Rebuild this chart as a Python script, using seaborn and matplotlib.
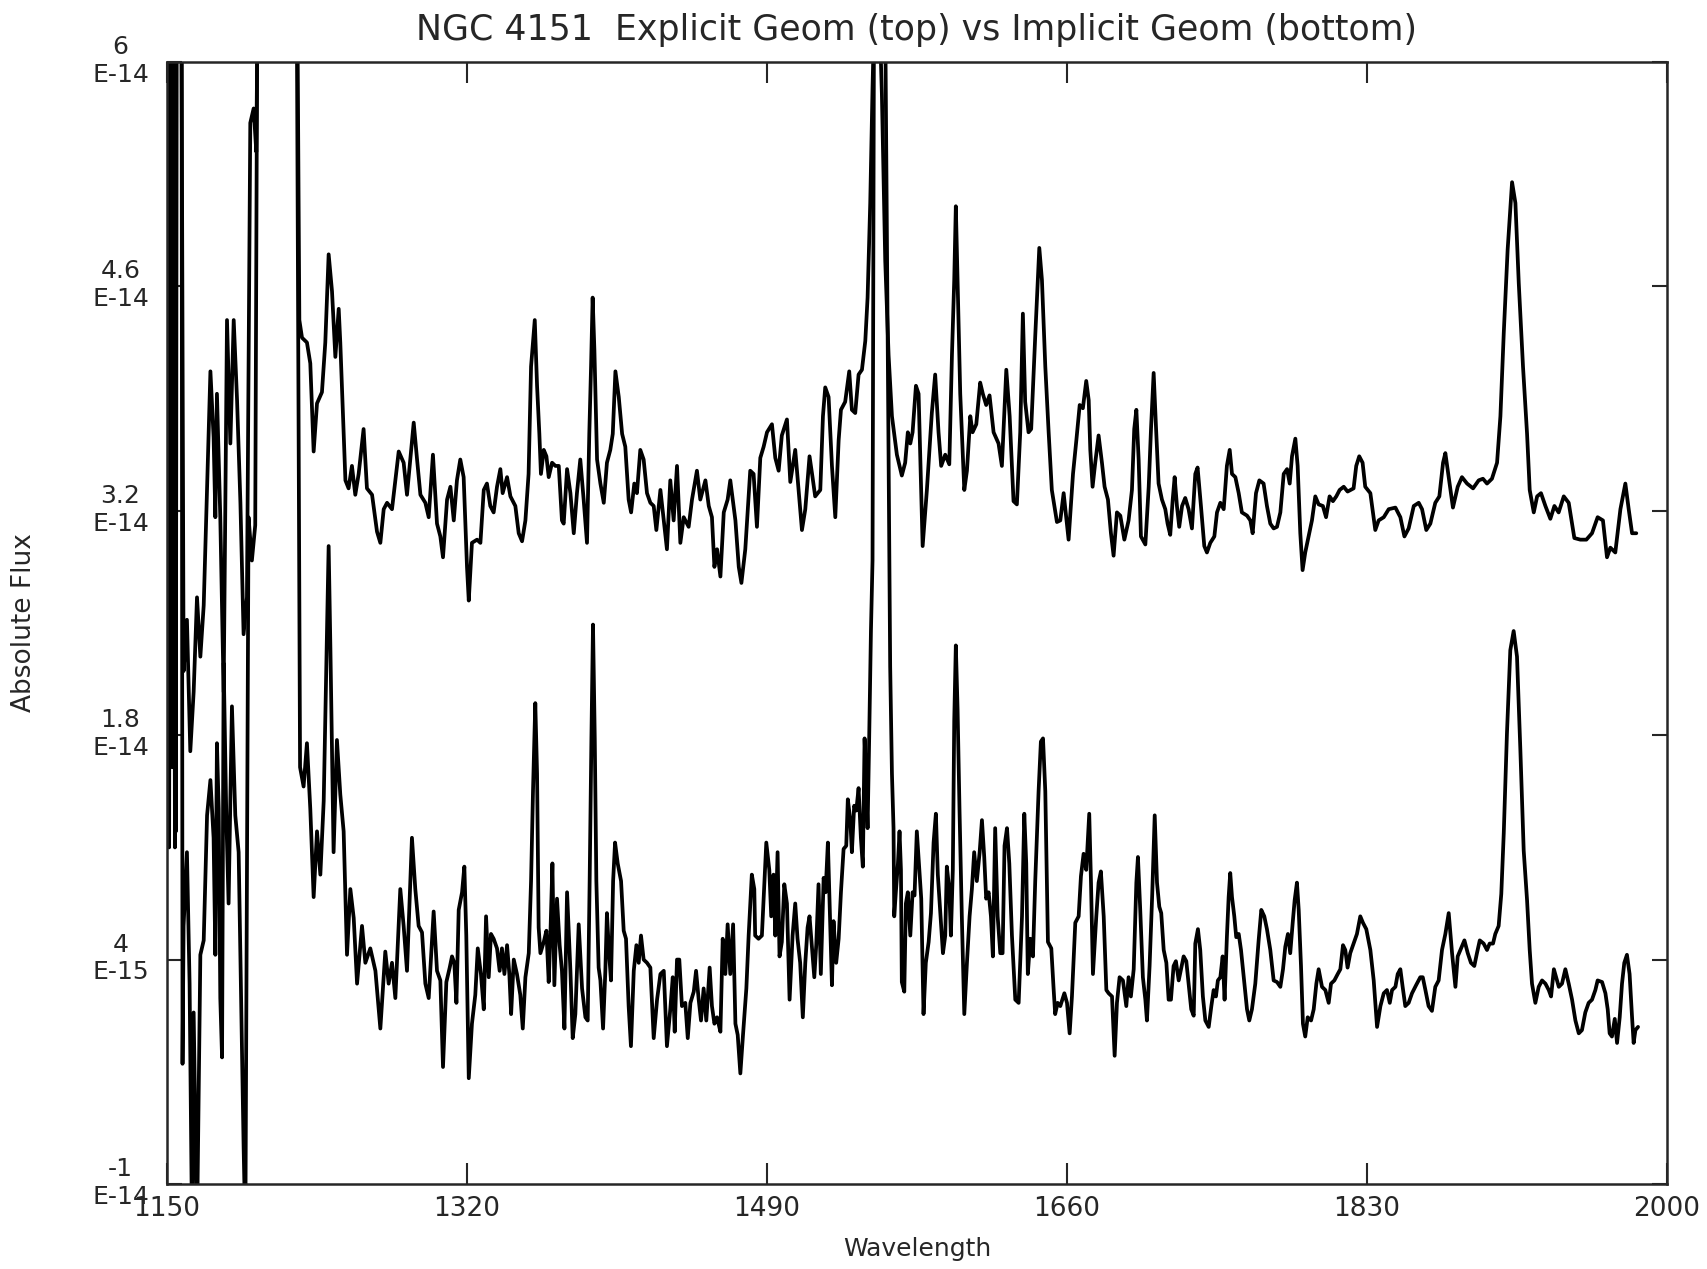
import matplotlib
matplotlib.use("Agg")
import matplotlib.pyplot as plt
import matplotlib.transforms as mtransforms
import pandas as pd
import seaborn as sns

# flux values are in units of 1E-14; 7.0 marks points that run off the top/bottom of the frame
explicit_points = [
    (1150.0, 7.0), (1150.8, 1.3), (1151.6, 7.0), (1152.6, 2.5), (1153.5, 7.0), (1154.5, 1.1),
    (1155.3, 7.0), (1158.0, 7.0), (1159.4, 2.20), (1161.3, 2.52), (1163.2, 1.70), (1165.1, 2.07),
    (1167.0, 2.66), (1168.9, 2.29), (1170.8, 2.61), (1172.7, 3.34), (1174.6, 4.07), (1176.4, 3.66),
    (1177.4, 3.16), (1178.3, 3.93), (1180.2, 3.16), (1182.1, 2.07), (1184.0, 4.39), (1185.9, 3.62),
    (1187.8, 4.39), (1189.7, 3.89), (1191.6, 3.25), (1193.4, 2.43), (1195.3, 2.66), (1197.2, 5.62),
    (1199.1, 5.71), (1200.6, 5.44), (1201.9, 7.0), (1223.5, 7.0),
    (1225.0, 4.39), (1226.5, 4.28), (1229.3, 4.25), (1231.2, 4.12), (1233.1, 3.57), (1235.0, 3.87),
    (1237.8, 3.94), (1239.7, 4.25), (1241.6, 4.80), (1243.5, 4.57), (1245.4, 4.16), (1247.3, 4.46),
    (1248.2, 4.25), (1251.1, 3.39), (1252.9, 3.34), (1254.8, 3.48), (1256.7, 3.30), (1258.6, 3.43),
    (1261.4, 3.71), (1263.3, 3.34), (1266.2, 3.30), (1269.0, 3.07), (1270.9, 3.00), (1272.8, 3.21),
    (1274.7, 3.25), (1277.5, 3.21), (1281.3, 3.57), (1284.1, 3.50), (1286.0, 3.30), (1289.8, 3.75),
    (1291.7, 3.52), (1293.6, 3.30), (1296.4, 3.25), (1298.3, 3.16), (1300.7, 3.55), (1303.0, 3.12),
    (1304.9, 3.04), (1306.4, 2.91), (1308.7, 3.27), (1310.6, 3.35), (1312.5, 3.14), (1314.3, 3.39),
    (1316.2, 3.52), (1318.1, 3.41), (1320.0, 2.85), (1321.0, 2.64), (1322.8, 3.00), (1325.7, 3.02),
    (1327.6, 3.00), (1329.5, 3.33), (1331.3, 3.37), (1333.2, 3.23), (1335.1, 3.19), (1337.0, 3.35),
    (1338.9, 3.46), (1340.2, 3.31), (1342.7, 3.41), (1344.6, 3.29), (1347.4, 3.23), (1349.3, 3.06),
    (1351.2, 3.01), (1353.1, 3.14), (1354.9, 3.43), (1356.3, 4.10), (1358.4, 4.39), (1359.7, 3.98),
    (1361.0, 3.68), (1361.9, 3.43), (1363.5, 3.58), (1365.0, 3.54), (1366.3, 3.41), (1368.2, 3.50),
    (1370.1, 3.48), (1372.0, 3.48), (1373.8, 3.14), (1374.8, 3.12), (1376.7, 3.46), (1378.6, 3.31),
    (1380.5, 3.06), (1382.3, 3.31), (1384.2, 3.52), (1386.1, 3.27), (1388.0, 3.00), (1389.3, 3.68),
    (1390.3, 4.10), (1391.2, 4.53), (1392.2, 4.20), (1393.7, 3.52), (1395.6, 3.37), (1397.5, 3.25),
    (1399.3, 3.50), (1401.2, 3.58), (1402.6, 3.68), (1404.1, 4.07), (1406.0, 3.91), (1407.9, 3.68),
    (1409.7, 3.60), (1411.6, 3.27), (1413.0, 3.19), (1414.8, 3.37), (1416.3, 3.31), (1418.2, 3.58),
    (1420.1, 3.52), (1422.0, 3.31), (1423.9, 3.25), (1425.8, 3.23), (1427.3, 3.08), (1429.6, 3.33),
    (1431.5, 3.14), (1433.3, 2.96), (1435.2, 3.39), (1437.1, 3.14), (1439.0, 3.48), (1440.9, 3.00),
    (1442.8, 3.16), (1445.6, 3.10), (1447.5, 3.27), (1450.3, 3.45), (1452.2, 3.27), (1455.1, 3.39),
    (1457.0, 3.23), (1458.8, 3.16), (1460.2, 2.85), (1461.7, 2.96), (1463.6, 2.79), (1465.5, 3.19),
    (1467.7, 3.27), (1469.2, 3.39), (1470.6, 3.27), (1472.1, 3.14), (1474.0, 2.85), (1475.5, 2.75),
    (1477.7, 2.96), (1480.5, 3.45), (1482.4, 3.43), (1484.3, 3.10), (1486.2, 3.53), (1488.1, 3.60),
    (1490.0, 3.69), (1492.8, 3.74), (1494.7, 3.53), (1496.6, 3.45), (1498.4, 3.67), (1501.3, 3.77),
    (1503.2, 3.38), (1506.0, 3.58), (1507.9, 3.33), (1509.8, 3.08), (1511.7, 3.21), (1514.1, 3.54),
    (1515.8, 3.41), (1517.3, 3.29), (1520.2, 3.33), (1521.7, 3.79), (1523.0, 3.97), (1524.9, 3.91),
    (1526.8, 3.48), (1528.7, 3.16), (1530.6, 3.64), (1531.9, 3.83), (1534.3, 3.88), (1536.6, 4.07),
    (1538.1, 3.83), (1540.0, 3.81), (1541.9, 4.05), (1543.8, 4.08), (1545.7, 4.26), (1547.0, 4.53),
    (1548.5, 5.12), (1549.8, 5.84), (1550.8, 6.3), (1553.2, 6.5), (1555.1, 5.8), (1557.0, 4.76),
    (1558.9, 4.17), (1560.8, 3.79), (1563.6, 3.55), (1566.4, 3.42), (1568.3, 3.50), (1569.8, 3.69),
    (1571.2, 3.62), (1572.5, 3.69), (1574.4, 3.98), (1575.9, 3.93), (1578.2, 2.98), (1580.6, 3.33),
    (1583.4, 3.81), (1585.3, 4.05), (1587.2, 3.69), (1588.7, 3.48), (1591.0, 3.55), (1593.3, 3.49),
    (1594.8, 4.17), (1596.1, 4.64), (1597.0, 5.10), (1598.0, 4.64), (1599.5, 3.93), (1601.8, 3.33),
    (1603.3, 3.45), (1605.2, 3.79), (1606.5, 3.69), (1608.6, 3.74), (1610.8, 4.00), (1612.3, 3.93),
    (1614.2, 3.86), (1616.1, 3.92), (1618.4, 3.69), (1621.2, 3.62), (1623.1, 3.48), (1625.6, 4.08),
    (1627.5, 3.79), (1629.7, 3.26), (1631.6, 3.24), (1633.5, 3.69), (1635.0, 4.43), (1636.3, 3.88),
    (1638.2, 3.69), (1639.7, 3.71), (1642.0, 4.29), (1644.3, 4.84), (1645.8, 4.64), (1647.7, 4.10),
    (1649.6, 3.69), (1651.4, 3.33), (1654.3, 3.13), (1656.2, 3.14), (1658.1, 3.31), (1660.9, 3.02),
    (1663.4, 3.43), (1665.3, 3.64), (1667.2, 3.86), (1669.0, 3.84), (1670.9, 4.01), (1672.3, 3.89),
    (1673.2, 3.58), (1674.5, 3.35), (1676.0, 3.50), (1677.9, 3.67), (1679.8, 3.50), (1681.3, 3.35),
    (1683.2, 3.27), (1684.9, 3.06), (1686.4, 2.92), (1688.3, 3.19), (1690.2, 3.17), (1692.5, 3.02),
    (1694.9, 3.14), (1696.8, 3.33), (1698.1, 3.71), (1699.3, 3.83), (1700.6, 3.52), (1701.9, 3.04),
    (1704.4, 2.99), (1706.3, 3.35), (1707.6, 3.71), (1709.1, 4.06), (1710.4, 3.73), (1711.9, 3.37),
    (1713.8, 3.27), (1715.7, 3.21), (1717.0, 3.12), (1718.5, 3.05), (1719.9, 3.27), (1721.0, 3.41),
    (1722.3, 3.23), (1723.6, 3.10), (1725.2, 3.23), (1727.0, 3.28), (1728.9, 3.21), (1730.8, 3.09),
    (1732.7, 3.43), (1734.0, 3.47), (1735.9, 3.23), (1737.8, 2.98), (1739.3, 2.94), (1741.2, 3.00),
    (1743.5, 3.04), (1745.0, 3.19), (1746.9, 3.25), (1748.8, 3.21), (1750.6, 3.48), (1752.2, 3.58),
    (1753.5, 3.43), (1755.4, 3.41), (1757.3, 3.31), (1759.1, 3.19), (1762.0, 3.17), (1763.9, 3.14),
    (1765.2, 3.06), (1767.1, 3.31), (1769.0, 3.39), (1771.4, 3.37), (1773.3, 3.23), (1775.2, 3.12),
    (1777.1, 3.09), (1779.0, 3.10), (1780.9, 3.19), (1782.8, 3.43), (1784.7, 3.46), (1786.2, 3.37),
    (1787.5, 3.54), (1789.4, 3.65), (1790.7, 3.48), (1792.2, 3.06), (1793.5, 2.83), (1795.0, 2.94),
    (1796.9, 3.04), (1798.8, 3.14), (1800.7, 3.29), (1802.6, 3.24), (1805.0, 3.23), (1806.8, 3.16),
    (1808.8, 3.29), (1810.7, 3.26), (1812.6, 3.29), (1814.5, 3.33), (1816.8, 3.35), (1819.0, 3.32),
    (1822.4, 3.34), (1823.9, 3.48), (1825.6, 3.54), (1827.5, 3.50), (1829.0, 3.35), (1831.9, 3.31),
    (1834.7, 3.08), (1836.6, 3.14), (1839.5, 3.16), (1842.3, 3.21), (1846.1, 3.22), (1848.9, 3.16),
    (1851.2, 3.04), (1853.6, 3.09), (1856.5, 3.23), (1859.3, 3.25), (1861.2, 3.21), (1863.6, 3.08),
    (1865.9, 3.12), (1868.7, 3.25), (1871.0, 3.29), (1873.1, 3.50), (1874.4, 3.56), (1876.3, 3.41),
    (1878.7, 3.22), (1881.4, 3.35), (1883.8, 3.41), (1886.7, 3.37), (1890.1, 3.34), (1893.3, 3.39),
    (1895.7, 3.40), (1898.0, 3.37), (1900.8, 3.40), (1903.7, 3.50), (1905.6, 3.79), (1907.5, 4.31),
    (1909.7, 4.83), (1912.2, 5.25), (1914.1, 5.12), (1916.0, 4.62), (1918.4, 4.10), (1920.7, 3.68),
    (1922.2, 3.33), (1924.5, 3.19), (1926.4, 3.29), (1928.6, 3.31), (1931.1, 3.23), (1933.9, 3.15),
    (1936.2, 3.23), (1938.6, 3.19), (1941.5, 3.29), (1944.3, 3.25), (1947.5, 3.03), (1950.9, 3.02),
    (1954.3, 3.02), (1957.5, 3.06), (1960.7, 3.16), (1963.7, 3.14), (1966.0, 2.91), (1967.9, 2.97),
    (1970.7, 2.94), (1973.6, 3.21), (1976.4, 3.37), (1978.3, 3.21), (1980.2, 3.06), (1982.6, 3.06),
]

implicit_points = [
    (1150.2, 7.0), (1151.2, 1.1), (1152.0, 7.0), (1153.0, 1.6), (1154.0, 7.0), (1155.0, 1.2),
    (1155.6, 7.0), (1158.2, 7.0), (1158.8, -0.25), (1159.4, 0.61), (1161.3, 1.07), (1162.8, 0.25),
    (1164.2, -1.3), (1165.1, 0.07), (1167.0, -1.3), (1168.9, 0.43), (1170.8, 0.52), (1172.7, 1.30),
    (1174.6, 1.52), (1176.4, 1.16), (1177.4, 0.43), (1178.3, 1.75), (1179.3, 1.34), (1180.2, 0.16),
    (1181.2, -0.21), (1182.1, 2.25), (1183.6, 1.30), (1184.9, 0.75), (1186.8, 1.98), (1188.7, 1.30),
    (1190.6, 1.07), (1193.4, -0.76), (1194.4, -1.3), (1196.2, 3.16), (1198.1, 2.89), (1200.0, 3.11),
    (1201.4, 7.0), (1223.3, 7.0), (1225.4, 1.6), (1227.4, 1.48), (1229.3, 1.75), (1231.2, 1.34),
    (1233.1, 0.79), (1235.0, 1.20), (1236.9, 0.93), (1238.8, 1.39), (1241.6, 2.98), (1242.6, 2.34),
    (1244.4, 1.07), (1246.3, 1.77), (1248.2, 1.43), (1250.1, 1.20), (1252.0, 0.43), (1253.9, 0.84),
    (1255.8, 0.66), (1257.7, 0.25), (1260.5, 0.61), (1262.4, 0.38), (1265.2, 0.47), (1268.1, 0.33),
    (1270.9, -0.03), (1273.7, 0.45), (1275.6, 0.25), (1277.5, 0.38), (1279.4, 0.16), (1282.2, 0.84),
    (1284.1, 0.61), (1286.0, 0.33), (1288.8, 1.16), (1290.7, 0.84), (1292.6, 0.61), (1294.5, 0.57),
    (1296.4, 0.25), (1298.3, 0.16), (1301.1, 0.70), (1303.0, 0.33), (1304.9, 0.27), (1306.4, -0.27),
    (1308.3, 0.26), (1310.2, 0.35), (1311.5, 0.42), (1312.8, 0.38), (1314.0, 0.13), (1315.3, 0.71),
    (1317.2, 0.82), (1318.5, 0.98), (1319.6, 0.55), (1321.0, -0.34), (1322.8, 0.00), (1324.7, 0.18),
    (1326.1, 0.47), (1327.9, 0.31), (1329.5, 0.09), (1330.8, 0.67), (1332.3, 0.29), (1333.6, 0.56),
    (1335.1, 0.53), (1337.0, 0.47), (1338.5, 0.33), (1339.8, 0.47), (1341.2, 0.31), (1342.7, 0.49),
    (1344.0, 0.31), (1345.0, 0.06), (1346.5, 0.40), (1348.3, 0.31), (1350.2, 0.18), (1351.6, -0.03),
    (1353.1, 0.29), (1355.0, 0.44), (1356.3, 0.89), (1357.4, 1.45), (1358.7, 2.00), (1359.7, 1.56),
    (1360.6, 0.60), (1361.6, 0.44), (1363.5, 0.51), (1365.0, 0.58), (1366.3, 0.26), (1367.2, 0.53),
    (1368.4, 1.00), (1369.5, 0.24), (1371.0, 0.78), (1372.5, 0.49), (1373.8, 0.33), (1375.2, -0.03),
    (1376.7, 0.82), (1378.6, 0.33), (1379.9, -0.09), (1381.4, 0.06), (1383.3, 0.62), (1385.2, 0.22),
    (1387.1, 0.04), (1388.4, 0.02), (1389.5, 0.89), (1390.5, 1.78), (1391.4, 2.49), (1392.4, 1.78),
    (1393.3, 0.89), (1394.6, 0.35), (1395.6, 0.27), (1397.1, -0.03), (1398.4, 0.33), (1399.3, 0.69),
    (1400.5, 0.44), (1401.6, 0.27), (1402.8, 0.89), (1403.9, 1.13), (1405.4, 1.00), (1407.3, 0.89),
    (1408.8, 0.58), (1410.1, 0.53), (1411.6, 0.11), (1412.9, -0.14), (1414.5, 0.33), (1416.0, 0.49),
    (1417.3, 0.38), (1418.6, 0.55), (1420.1, 0.40), (1422.0, 0.38), (1423.9, 0.35), (1425.8, -0.09),
    (1427.7, 0.15), (1429.6, 0.31), (1431.5, 0.33), (1433.3, -0.14), (1435.2, 0.09), (1436.6, 0.29),
    (1437.7, -0.05), (1439.0, 0.40), (1440.3, 0.40), (1441.8, 0.11), (1443.7, 0.13), (1445.1, -0.09),
    (1446.6, 0.13), (1448.5, 0.20), (1449.8, 0.33), (1451.3, 0.15), (1452.6, 0.02), (1454.1, 0.22),
    (1455.6, 0.02), (1457.5, 0.35), (1458.8, 0.11), (1460.2, 0.00), (1461.7, 0.04), (1463.6, -0.05),
    (1464.9, 0.53), (1466.4, 0.31), (1467.7, 0.62), (1469.2, 0.31), (1470.8, 0.62), (1472.1, 0.00),
    (1473.4, -0.07), (1474.9, -0.31), (1476.4, -0.07), (1478.3, 0.22), (1479.6, 0.55), (1481.4, 0.93),
    (1482.8, 0.84), (1483.3, 0.55), (1485.2, 0.53), (1487.1, 0.55), (1489.6, 1.13), (1491.3, 0.96),
    (1492.4, 0.67), (1493.7, 0.93), (1494.7, 0.55), (1496.0, 1.07), (1497.1, 0.42), (1498.4, 0.51),
    (1499.8, 0.87), (1501.3, 0.75), (1502.8, 0.15), (1504.5, 0.55), (1506.0, 0.75), (1507.3, 0.53),
    (1508.8, 0.38), (1510.3, 0.04), (1511.7, 0.38), (1513.0, 0.60), (1514.1, 0.67), (1515.4, 0.49),
    (1516.8, 0.29), (1517.9, 0.49), (1519.2, 0.87), (1520.5, 0.31), (1522.1, 0.91), (1523.2, 0.82),
    (1524.5, 1.13), (1525.8, 0.64), (1526.8, 0.24), (1527.7, 0.64), (1529.2, 0.38), (1530.6, 0.53),
    (1531.9, 0.82), (1533.4, 1.09), (1534.9, 1.11), (1535.8, 1.40), (1537.2, 1.27), (1538.1, 1.07),
    (1539.4, 1.36), (1540.6, 1.33), (1541.9, 1.47), (1543.2, 1.16), (1544.3, 0.98), (1545.3, 1.78),
    (1546.2, 1.51), (1547.0, 1.22), (1547.9, 1.78), (1548.9, 2.45), (1549.8, 2.89), (1550.8, 7.0),
    (1556.5, 7.0), (1559.8, 2.23), (1560.8, 1.56), (1561.7, 1.22), (1562.1, 0.67), (1563.0, 0.82),
    (1564.2, 1.00), (1565.1, 1.20), (1565.9, 0.96), (1566.4, 0.26), (1567.8, 0.20), (1568.7, 0.75),
    (1569.8, 0.82), (1571.2, 0.55), (1572.5, 0.82), (1573.6, 0.80), (1574.9, 1.20), (1576.5, 0.93),
    (1577.4, 0.78), (1578.7, 0.06), (1580.0, 0.38), (1581.6, 0.51), (1582.9, 0.69), (1584.4, 1.13),
    (1585.7, 1.31), (1586.8, 0.93), (1588.2, 0.69), (1589.7, 0.44), (1591.0, 0.55), (1591.9, 0.98),
    (1593.3, 0.84), (1594.2, 0.55), (1595.3, 0.96), (1596.1, 1.89), (1597.0, 2.36), (1598.0, 1.96),
    (1599.1, 1.33), (1600.4, 0.67), (1601.8, 0.06), (1603.3, 0.38), (1604.8, 0.67), (1606.1, 0.84),
    (1607.4, 1.07), (1608.9, 0.89), (1610.5, 1.07), (1611.8, 1.27), (1613.1, 1.04), (1614.2, 0.78),
    (1615.6, 0.82), (1616.9, 0.67), (1618.0, 0.42), (1619.3, 1.22), (1620.7, 0.67), (1622.2, 0.44),
    (1623.5, 0.44), (1624.6, 1.11), (1626.0, 1.22), (1627.3, 1.00), (1628.8, 0.55), (1630.7, 0.15),
    (1632.6, 0.13), (1634.5, 0.67), (1635.8, 1.31), (1636.9, 1.00), (1637.8, 0.31), (1639.2, 0.53),
    (1640.7, 0.42), (1642.0, 0.89), (1643.9, 1.45), (1645.2, 1.76), (1646.4, 1.78), (1647.7, 1.45),
    (1649.2, 0.51), (1651.1, 0.47), (1652.4, 0.22), (1653.3, 0.06), (1654.7, 0.13), (1656.2, 0.11),
    (1658.5, 0.19), (1660.0, 0.13), (1661.5, -0.06), (1662.8, 0.17), (1664.7, 0.63), (1666.6, 0.67),
    (1667.9, 0.92), (1669.4, 1.06), (1670.9, 0.96), (1672.6, 1.31), (1673.6, 0.88), (1674.7, 0.31),
    (1676.6, 0.67), (1677.9, 0.88), (1679.2, 0.95), (1680.8, 0.67), (1682.3, 0.21), (1683.6, 0.19),
    (1685.5, 0.17), (1687.0, -0.20), (1688.3, 0.13), (1689.8, 0.29), (1691.7, 0.27), (1693.6, 0.11),
    (1694.9, 0.29), (1696.2, 0.17), (1697.8, 0.34), (1699.3, 0.88), (1700.2, 1.04), (1701.5, 0.71),
    (1703.0, 0.29), (1704.4, 0.15), (1705.3, 0.02), (1706.8, 0.36), (1708.3, 0.81), (1709.7, 1.30),
    (1711.0, 0.88), (1712.3, 0.73), (1713.4, 0.69), (1714.8, 0.46), (1716.3, 0.38), (1717.6, 0.15),
    (1718.9, 0.15), (1720.4, 0.36), (1721.7, 0.39), (1723.3, 0.27), (1724.6, 0.34), (1726.1, 0.42),
    (1727.6, 0.39), (1728.9, 0.25), (1730.4, 0.09), (1731.8, 0.05), (1732.7, 0.50), (1734.2, 0.59),
    (1735.5, 0.46), (1737.0, 0.17), (1738.4, 0.02), (1740.3, -0.02), (1741.8, 0.11), (1743.1, 0.21),
    (1744.4, 0.17), (1745.5, 0.27), (1746.9, 0.29), (1748.2, 0.42), (1749.3, 0.15), (1750.6, 0.54),
    (1751.6, 0.79), (1752.5, 0.94), (1753.5, 0.79), (1754.8, 0.67), (1755.9, 0.54), (1757.3, 0.56),
    (1758.6, 0.46), (1760.5, 0.25), (1762.0, 0.09), (1763.3, 0.02), (1764.8, 0.09), (1766.7, 0.25),
    (1768.6, 0.52), (1770.1, 0.71), (1771.8, 0.67), (1773.3, 0.59), (1775.2, 0.46), (1777.1, 0.27),
    (1779.0, 0.26), (1780.9, 0.23), (1782.4, 0.34), (1783.7, 0.48), (1785.2, 0.56), (1786.5, 0.44),
    (1787.9, 0.63), (1789.0, 0.77), (1790.3, 0.88), (1791.3, 0.71), (1792.6, 0.36), (1793.7, 0.00),
    (1795.0, -0.08), (1796.4, 0.04), (1798.3, 0.02), (1799.8, 0.09), (1801.3, 0.25), (1802.6, 0.34),
    (1804.5, 0.23), (1806.4, 0.21), (1808.3, 0.13), (1809.6, 0.25), (1811.5, 0.27), (1813.4, 0.31),
    (1814.9, 0.34), (1816.4, 0.49), (1817.7, 0.46), (1819.0, 0.35), (1820.5, 0.44), (1822.4, 0.50),
    (1824.3, 0.56), (1826.2, 0.67), (1827.7, 0.63), (1829.6, 0.59), (1831.9, 0.46), (1833.8, 0.27),
    (1835.7, -0.02), (1837.6, 0.11), (1839.5, 0.19), (1841.3, 0.21), (1842.9, 0.13), (1844.2, 0.21),
    (1846.1, 0.23), (1847.4, 0.31), (1848.9, 0.34), (1850.2, 0.23), (1851.7, 0.11), (1853.6, 0.13),
    (1855.5, 0.19), (1857.8, 0.24), (1860.2, 0.29), (1861.6, 0.29), (1863.1, 0.21), (1864.9, 0.11),
    (1866.8, 0.08), (1868.7, 0.23), (1870.6, 0.27), (1872.5, 0.46), (1874.4, 0.56), (1876.3, 0.69),
    (1878.2, 0.44), (1880.1, 0.23), (1881.4, 0.42), (1882.9, 0.46), (1885.2, 0.52), (1887.1, 0.44),
    (1888.9, 0.38), (1890.8, 0.36), (1892.3, 0.44), (1893.9, 0.52), (1896.1, 0.50), (1898.0, 0.46),
    (1899.5, 0.50), (1901.4, 0.50), (1902.7, 0.56), (1904.6, 0.61), (1906.1, 0.81), (1907.5, 1.19),
    (1909.3, 1.81), (1911.2, 2.33), (1913.1, 2.45), (1915.0, 2.29), (1916.9, 1.71), (1918.8, 1.08),
    (1920.7, 0.77), (1922.2, 0.46), (1923.5, 0.25), (1925.4, 0.13), (1927.3, 0.23), (1929.2, 0.27),
    (1931.1, 0.25), (1933.0, 0.21), (1934.3, 0.17), (1935.9, 0.34), (1937.2, 0.29), (1938.7, 0.23),
    (1940.5, 0.25), (1942.4, 0.34), (1944.3, 0.25), (1946.2, 0.15), (1948.1, 0.02), (1950.0, -0.06),
    (1951.8, -0.04), (1953.7, 0.07), (1955.6, 0.13), (1957.5, 0.15), (1959.4, 0.21), (1960.7, 0.27),
    (1963.2, 0.26), (1965.1, 0.19), (1966.4, 0.09), (1967.5, -0.06), (1968.8, -0.08), (1970.4, 0.03),
    (1971.7, -0.12), (1973.2, 0.04), (1974.5, 0.25), (1975.8, 0.38), (1977.3, 0.43), (1978.8, 0.31),
    (1980.2, 0.04), (1981.1, -0.12), (1982.1, -0.04), (1983.6, -0.02),
]

x_ticks = [1150, 1320, 1490, 1660, 1830, 2000]
y_ticks = [-1, 0.4, 1.8, 3.2, 4.6, 6]
y_tick_labels = ["-1\nE-14", "4\nE-15", "1.8\nE-14", "3.2\nE-14", "4.6\nE-14", "6\nE-14"]

explicit = pd.DataFrame(explicit_points, columns=["wavelength", "flux"])
implicit = pd.DataFrame(implicit_points, columns=["wavelength", "flux"])

sns.set_style("ticks")
plt.rcParams["font.family"] = ["DejaVu Sans"]

fig = plt.figure(figsize=(17.08, 12.69), dpi=100)
ax = fig.add_axes([167 / 1708, 85 / 1269, 1500 / 1708, 1122 / 1269])

for df in (explicit, implicit):
    sns.lineplot(data=df, x="wavelength", y="flux", color="black", linewidth=2.7,
                 estimator=None, sort=False, ax=ax)

ax.set_xlim(1150, 2000)
ax.set_ylim(-1, 6)
ax.set_xticks(x_ticks)
ax.set_xticklabels([str(t) for t in x_ticks])
ax.set_yticks(y_ticks)
ax.set_yticklabels(y_tick_labels)

ax.tick_params(axis="x", direction="in", length=15, width=1.5, top=True,
               labelsize=19, pad=9)
ax.tick_params(axis="y", direction="in", length=11, width=1.5, right=True,
               labelsize=18, pad=13)
shift = mtransforms.ScaledTranslation(0, 4 / 72, fig.dpi_scale_trans)
for lab in ax.get_yticklabels():
    lab.set_multialignment("center")
    lab.set_transform(lab.get_transform() + shift)

for sp in ax.spines.values():
    sp.set_linewidth(1.8)
    sp.set_visible(True)

ax.set_xlabel("Wavelength", fontsize=18)
ax.xaxis.set_label_coords(0.5, -0.047)
ax.set_ylabel("Absolute Flux", fontsize=19)
ax.yaxis.set_label_coords(-0.087, 0.5)

fig.text(917 / 1708, 1 - 30 / 1269,
         "NGC 4151  Explicit Geom (top) vs Implicit Geom (bottom)",
         ha="center", va="center", fontsize=25)

fig.savefig("out.png", dpi=100)
